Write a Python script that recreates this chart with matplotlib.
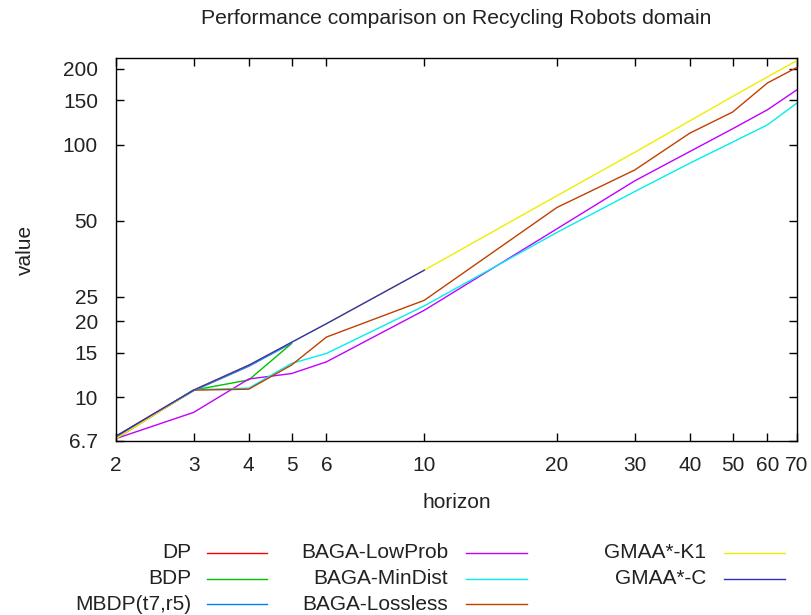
import matplotlib
matplotlib.use("Agg")
import matplotlib.pyplot as plt
from matplotlib.lines import Line2D
from matplotlib.ticker import FixedLocator, FixedFormatter, NullLocator

plt.rcParams['font.family'] = ['Liberation Sans', 'DejaVu Sans']

# horizons
h_short = [2, 3, 4, 5]
h_gmaa = [2, 3, 4, 5, 6, 10]
h_long = [2, 3, 4, 5, 6, 10, 20, 30, 40, 50, 60, 70]

# values
dp = [7.0, 10.66, 13.38]
bdp = [6.9, 10.66, 11.7, 16.3]
mbdp = [6.95, 10.6, 13.25, 16.35]
baga_lowprob = [6.85, 8.7, 11.8, 12.4, 13.8, 22.1, 46.5, 72.0, 94.1, 115.8, 137.8, 165.4]
baga_mindist = [6.85, 10.7, 10.85, 13.6, 14.9, 23.0, 45.0, 65.3, 84.6, 102.5, 120.1, 146.5]
baga_lossless = [6.85, 10.66, 10.75, 13.4, 17.3, 24.2, 56.5, 79.5, 111.3, 134.9, 176.0, 202.8]
gmaa_k1 = [6.85, 10.66, 13.38, 16.49, 19.55, 31.86, 62.9, 93.4, 124.5, 155.5, 186.0, 216.0]
gmaa_c = [7.0, 10.66, 13.38, 16.49, 19.55, 31.86]

x_ticks = [2, 3, 4, 5, 6, 10, 20, 30, 40, 50, 60, 70]
y_ticks = [6.7, 10, 15, 20, 25, 50, 100, 150, 200]
y_tick_labels = ['6.7', '10', '15', '20', '25', '50', '100', '150', '200']

series = [
    ('DP', h_short[:3], dp, '#ff0000'),
    ('BDP', h_short, bdp, '#00c000'),
    ('MBDP(t7,r5)', h_short, mbdp, '#0080ff'),
    ('BAGA-LowProb', h_long, baga_lowprob, '#c000ff'),
    ('BAGA-MinDist', h_long, baga_mindist, '#00eeee'),
    ('BAGA-Lossless', h_long, baga_lossless, '#c04000'),
    ('GMAA*-K1', h_long, gmaa_k1, '#eeee00'),
    ('GMAA*-C', h_gmaa, gmaa_c, '#3030c0'),
]

W, H = 812, 615
fig = plt.figure(figsize=(W / 100, H / 100), dpi=100)
ax = fig.add_axes([116 / W, 1 - 441 / H, (797 - 116) / W, (441 - 58) / H])

for name, xs, ys, col in series:
    ax.plot(xs, ys, color=col, lw=1.0)

ax.set_xscale('log')
ax.set_yscale('log')
ax.set_xlim(2, 70)
ax.set_ylim(6.7, 221)
ax.xaxis.set_major_locator(FixedLocator(x_ticks))
ax.xaxis.set_major_formatter(FixedFormatter([str(t) for t in x_ticks]))
ax.xaxis.set_minor_locator(NullLocator())
ax.yaxis.set_major_locator(FixedLocator(y_ticks))
ax.yaxis.set_major_formatter(FixedFormatter(y_tick_labels))
ax.yaxis.set_minor_locator(NullLocator())
ax.tick_params(direction='in', length=6, width=1, top=True, right=True,
               labelsize=15, colors='black', labelcolor='#222222')
ax.tick_params(axis='x', pad=11)
ax.tick_params(axis='y', pad=13)
for sp in ax.spines.values():
    sp.set_linewidth(1.0)

ax.set_xlabel('horizon', fontsize=15, labelpad=13, color='#222222')
ax.set_ylabel('value', fontsize=15, labelpad=20, color='#222222')
fig.text(456 / W, 1 - 18 / H, 'Performance comparison on Recycling Robots domain',
         ha='center', va='center', fontsize=15.2, color='#222222')

# gnuplot style key: right aligned text then a line sample
text_right = [191, 448, 706]
line_span = [(207, 267), (466, 527), (724, 785)]
rows = [553, 579, 604]
for i, (name, xs, ys, col) in enumerate(series):
    c, r = i // 3, i % 3
    yf = 1 - rows[r] / H
    fig.text(text_right[c] / W, yf, name, ha='right', va='center',
             fontsize=15, color='#222222')
    x0, x1 = line_span[c]
    fig.add_artist(Line2D([x0 / W, x1 / W], [yf, yf], color=col, lw=1.0,
                          transform=fig.transFigure))

fig.savefig('out.png', dpi=100)
